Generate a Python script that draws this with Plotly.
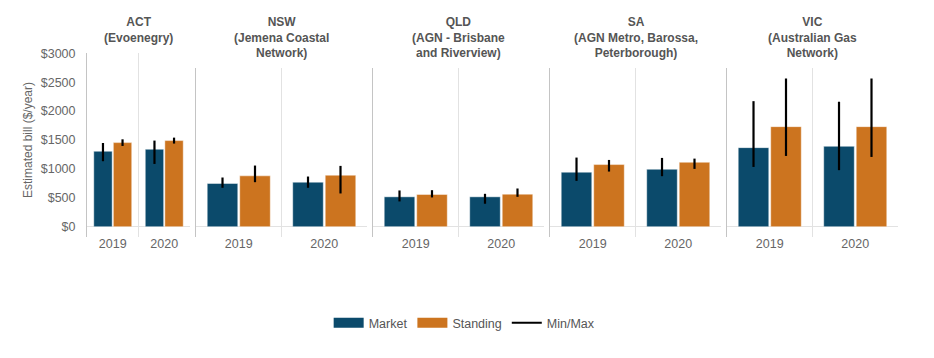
import plotly.graph_objects as go

# ---------------- data ----------------
regions = ["ACT<br>(Evoenegry)",
           "NSW<br>(Jemena Coastal<br>Network)",
           "QLD<br>(AGN - Brisbane<br>and Riverview)",
           "SA<br>(AGN Metro, Barossa,<br>Peterborough)",
           "VIC<br>(Australian Gas<br>Network)"]
years = ["2019", "2020"]

market_val = [[1305, 1340], [748, 770], [517, 517], [943, 994], [1368, 1391]]
market_min = [[1133, 1086], [673, 673], [437, 397], [793, 874], [1034, 978]]
market_max = [[1448, 1490], [851, 868], [627, 569], [1196, 1190], [2172, 2162]]

standing_val = [[1455, 1490], [880, 891], [558, 563], [1075, 1115], [1731, 1731]]
standing_min = [[1397, 1438], [770, 575], [506, 517], [954, 1000], [1224, 1207]]
standing_max = [[1512, 1541], [1058, 1052], [632, 661], [1155, 1178], [2564, 2564]]

y_ticks = [0, 500, 1000, 1500, 2000, 2500, 3000]
y_ticktext = ["$0", "$500", "$1000", "$1500", "$2000", "$2500", "$3000"]

# ---------------- style / layout ----------------
W, H = 934, 358
MARKET_C = "#0b4a6b"
STANDING_C = "#cc741f"
FONT = "Liberation Sans, Arial, Helvetica, sans-serif"

x_px = [(87, 190), (196, 367), (373, 544), (550, 721), (727, 898)]
top_px = [53, 68, 68, 68, 68]
bottom_px = 237
zero_px = 226.7
px_per_unit = 0.0578

fig = go.Figure()

for i in range(5):
    ax = "" if i == 0 else str(i + 1)
    for name, vals, mins, maxs, col in [
        ("Market", market_val[i], market_min[i], market_max[i], MARKET_C),
        ("Standing", standing_val[i], standing_min[i], standing_max[i], STANDING_C),
    ]:
        fig.add_trace(go.Bar(
            x=[0, 1], y=vals, name=name, showlegend=False,
            marker=dict(color=col, line=dict(color="rgba(255,255,255,0.45)", width=1)),
            error_y=dict(type="data", symmetric=False,
                         array=[mx - v for mx, v in zip(maxs, vals)],
                         arrayminus=[v - mn for mn, v in zip(mins, vals)],
                         color="black", thickness=2.2, width=0),
            xaxis="x" + ax, yaxis="y" + ax,
        ))

    x0, x1 = x_px[i]
    y_lo = -(bottom_px - zero_px) / px_per_unit
    y_hi = (zero_px - top_px[i]) / px_per_unit
    fig.layout["xaxis" + ax] = dict(
        domain=[x0 / W, x1 / W], anchor="y" + ax, type="linear",
        range=[-0.5, 1.5], tickvals=[0, 1], ticktext=years,
        showgrid=False, zeroline=False, showline=False, ticks="",
        ticklabelstandoff=-3,
        tickfont=dict(size=12.5, color="#666", family=FONT),
        minor=dict(tickvals=[-0.5, 0.5, 1.5], showgrid=True,
                   gridcolor="#e2e2e2", gridwidth=1, ticks=""),
        fixedrange=True,
    )
    fig.layout["yaxis" + ax] = dict(
        domain=[1 - bottom_px / H, 1 - top_px[i] / H], anchor="x" + ax,
        range=[y_lo, y_hi], tickvals=y_ticks, ticktext=y_ticktext,
        showticklabels=(i == 0), showgrid=False,
        zeroline=True, zerolinecolor="#e2e2e2", zerolinewidth=1,
        showline=True, linecolor="#c4c4c4", linewidth=1, ticks="",
        ticklabelstandoff=8,
        tickfont=dict(size=12.5, color="#666", family=FONT),
        fixedrange=True,
    )
    fig.add_annotation(
        text="<b>" + regions[i] + "</b>", xref="paper", yref="paper",
        x=((x0 + x1) / 2) / W, y=1 - 13 / H, xanchor="center", yanchor="top",
        showarrow=False, align="center",
        font=dict(size=12, color="#555", family=FONT),
    )

# legend-only entries
fig.add_trace(go.Scatter(x=[None], y=[None], mode="lines", name="Market",
                         line=dict(color=MARKET_C, width=10)))
fig.add_trace(go.Scatter(x=[None], y=[None], mode="lines", name="Standing",
                         line=dict(color=STANDING_C, width=10)))
fig.add_trace(go.Scatter(x=[None], y=[None], mode="lines", name="Min/Max",
                         line=dict(color="black", width=2)))

fig.add_annotation(
    text="Estimated bill ($/year)", xref="paper", yref="paper",
    x=28 / W, y=1 - 140 / H, textangle=-90, showarrow=False,
    xanchor="center", yanchor="middle",
    font=dict(size=12, color="#666", family=FONT),
)

fig.update_layout(
    template="none",
    width=W, height=H,
    margin=dict(l=0, r=0, t=0, b=0),
    paper_bgcolor="white", plot_bgcolor="white",
    barmode="group", bargap=0.24, bargroupgap=0.06,
    font=dict(family=FONT, color="#666"),
    legend=dict(orientation="h", x=0.4975, xanchor="center",
                y=1 - 323 / H, yanchor="middle",
                font=dict(size=12.5, color="#555", family=FONT),
                itemwidth=30),
)

fig.write_html("out.html",
               config={"displayModeBar": False},
               post_script="document.body.style.margin='0';document.body.style.overflow='hidden';")
